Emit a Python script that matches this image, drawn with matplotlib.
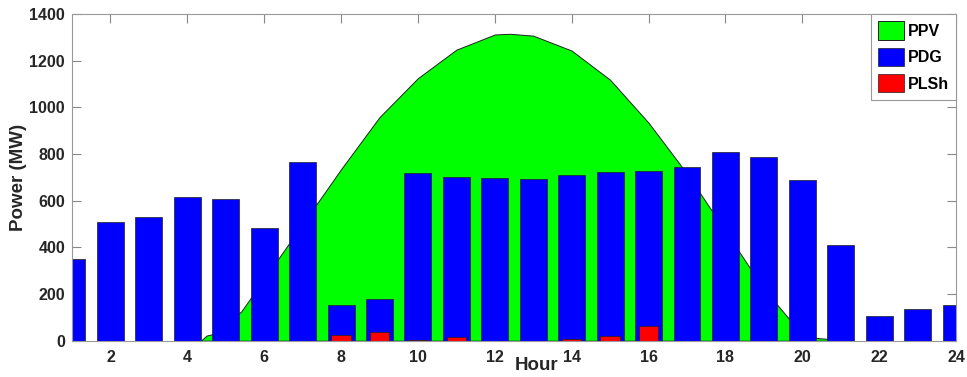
import numpy as np
import matplotlib.pyplot as plt

plt.rcParams['font.family'] = ['Liberation Sans', 'DejaVu Sans']
plt.rcParams['font.weight'] = 'bold'

# data
hours = list(range(1, 25))
pdg = [349, 510, 529, 615, 606, 484, 765, 153, 179, 720, 703, 696,
       694, 709, 724, 727, 743, 810, 786, 687, 409, 107, 135, 153]
plsh = [0, 0, 0, 0, 0, 0, 0, 24, 37, 3, 15, 0,
        0, 6, 19, 64, 0, 0, 0, 0, 0, 0, 0, 0]
pv_time = [4.35, 4.5, 4.7, 5.0, 5.4, 6, 7, 8, 9, 10, 11, 12, 12.4, 13,
           14, 15, 16, 17, 18, 19, 19.65, 20.0, 20.35, 20.65, 20.7]
ppv = [0, 22, 30, 75, 125, 265, 500, 735, 958, 1125, 1247, 1312, 1315, 1307,
       1243, 1118, 934, 716, 470, 222, 95, 40, 12, 8, 0]

fig = plt.figure(figsize=(9.67, 3.77), dpi=100)
ax = fig.add_axes([0.0745, 0.0963, 0.9141, 0.8667])

ax.fill_between(pv_time, ppv, color=(0, 1, 0), edgecolor='#202020',
                linewidth=0.7, label='PPV', zorder=1)
ax.bar(hours, pdg, width=0.7, color=(0, 0, 1), edgecolor='#202020',
       linewidth=0.5, label='PDG', zorder=2)
ax.bar(hours, plsh, width=0.5, color=(1, 0, 0), edgecolor='#202020',
       linewidth=0.5, label='PLSh', zorder=3)

ax.set_xlim(1, 24)
ax.set_ylim(0, 1400)
ax.set_xticks(range(2, 25, 2))
ax.set_yticks(range(0, 1401, 200))
ax.tick_params(direction='in', length=6.5, width=0.8, color='#888888',
               top=True, right=True, labelsize=11.5, labelcolor='#262626',
               pad=5)
ax.tick_params(axis='x', pad=7)
for s in ax.spines.values():
    s.set_color('#999999')
    s.set_linewidth(0.8)
    s.set_zorder(5)

ax.set_ylabel('Power (MW)', fontsize=13.5, fontweight='bold', color='#262626',
              labelpad=2)
ax.text(0.525, -0.077, 'Hour', transform=ax.transAxes, ha='center',
        va='center', fontsize=13.5, fontweight='bold', color='#262626')

leg = ax.legend(loc='upper right', borderaxespad=0, fontsize=11.5,
                handlelength=1.6, handleheight=1.4, handletextpad=0.25,
                labelspacing=0.5, borderpad=0.45, fancybox=False,
                framealpha=1)
leg.get_frame().set_edgecolor('#999999')
leg.get_frame().set_linewidth(0.8)
leg.set_zorder(10)

fig.savefig('out.png', dpi=100)
